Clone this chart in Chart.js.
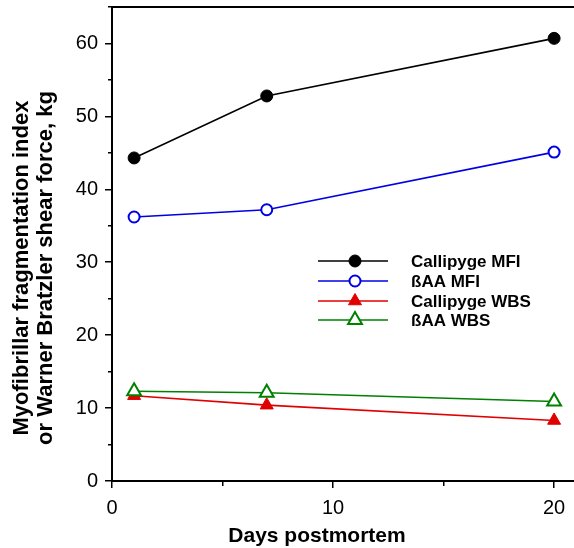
<!DOCTYPE html>
<html>
<head>
<meta charset="utf-8">
<script src="https://cdn.jsdelivr.net/npm/chart.js@4/dist/chart.umd.min.js"></script>
<style>
  html, body { margin: 0; padding: 0; background: #fff; }
  #wrap { width: 574px; height: 548px; }
</style>
</head>
<body>
<div id="wrap"><canvas id="chart" width="574" height="548"></canvas></div>
<script>
var days = [1, 7, 20];
var callipygeMFI = [44.3, 52.8, 60.7];
var baaMFI = [36.2, 37.2, 45.1];
var callipygeWBS = [11.7, 10.4, 8.3];
var baaWBS = [12.3, 12.1, 10.9];
var xTickLabels = [0, 10, 20];
var yTickLabels = [0, 10, 20, 30, 40, 50, 60];

var FONT = '"Liberation Sans", Arial, Helvetica, sans-serif';

function toPoints(values) {
    return days.map(function(d, i) { return { x: d, y: values[i] }; });
}

function isMinor(ctx) {
    return ctx.tick && ctx.tick.value % 10 !== 0;
}

// legend drawn inside the plot: line with the marker in the middle
var insideLegend = {
    id: 'insideLegend',
    afterDraw: function(chart) {
        var ctx = chart.ctx;
        var rows = [261, 281, 301, 320];
        ctx.save();
        chart.data.datasets.forEach(function(ds, i) {
            var y = rows[i];
            ctx.strokeStyle = ds.borderColor;
            ctx.lineWidth = 1.6;
            ctx.beginPath();
            ctx.moveTo(318, y);
            ctx.lineTo(388, y);
            ctx.stroke();
            ctx.fillStyle = ds.pointBackgroundColor;
            ctx.strokeStyle = ds.pointBorderColor;
            ctx.lineWidth = ds.pointBorderWidth;
            Chart.helpers.drawPoint(ctx, {
                pointStyle: ds.pointStyle,
                radius: ds.pointRadius,
                borderWidth: ds.pointBorderWidth,
                rotation: 0
            }, 355, y);
            ctx.fillStyle = '#000';
            ctx.font = 'bold 17px ' + FONT;
            ctx.textBaseline = 'middle';
            ctx.textAlign = 'left';
            ctx.fillText(ds.label, 411, y + 1);
        });
        ctx.restore();
    }
};

// top frame line and axis titles
var frame = {
    id: 'frame',
    afterDraw: function(chart) {
        var ctx = chart.ctx;
        var a = chart.chartArea;
        ctx.save();
        ctx.strokeStyle = '#000';
        ctx.lineWidth = 2;
        ctx.beginPath();
        ctx.moveTo(a.left - 1, a.top);
        ctx.lineTo(a.right, a.top);
        ctx.stroke();

        ctx.fillStyle = '#000';
        ctx.textAlign = 'center';
        ctx.textBaseline = 'alphabetic';
        ctx.font = 'bold 21px ' + FONT;
        ctx.fillText('Days postmortem', 317, 542);

        ctx.font = 'bold 22px ' + FONT;
        ctx.translate(0, 268);
        ctx.rotate(-Math.PI / 2);
        ctx.fillText('Myofibrillar fragmentation index', 0, 28);
        ctx.fillText('or Warner Bratzler shear force, kg', 0, 52);
        ctx.restore();
    }
};

new Chart(document.getElementById('chart'), {
    type: 'line',
    data: {
        datasets: [{
            label: 'Callipyge MFI',
            data: toPoints(callipygeMFI),
            borderColor: '#000000',
            borderWidth: 1.6,
            pointStyle: 'circle',
            pointRadius: 6,
            pointBorderWidth: 1,
            pointBackgroundColor: '#000000',
            pointBorderColor: '#000000',
            order: 1
        }, {
            label: 'ßAA MFI',
            data: toPoints(baaMFI),
            borderColor: '#0000e6',
            borderWidth: 1.6,
            pointStyle: 'circle',
            pointRadius: 5.5,
            pointBorderWidth: 2,
            pointBackgroundColor: '#ffffff',
            pointBorderColor: '#0000e6',
            order: 2
        }, {
            label: 'Callipyge WBS',
            data: toPoints(callipygeWBS),
            borderColor: '#e00000',
            borderWidth: 1.6,
            pointStyle: 'triangle',
            pointRadius: 7.5,
            pointBorderWidth: 1,
            pointBackgroundColor: '#e00000',
            pointBorderColor: '#e00000',
            order: 4
        }, {
            label: 'ßAA WBS',
            data: toPoints(baaWBS),
            borderColor: '#008000',
            borderWidth: 1.6,
            pointStyle: 'triangle',
            pointRadius: 8,
            pointBorderWidth: 2,
            pointBackgroundColor: '#ffffff',
            pointBorderColor: '#008000',
            order: 3
        }]
    },
    options: {
        responsive: false,
        animation: false,
        layout: { autoPadding: false, padding: { top: 7, left: 0, right: 0, bottom: 0 } },
        plugins: {
            legend: { display: false },
            tooltip: { enabled: false }
        },
        scales: {
            x: {
                type: 'linear',
                min: 0,
                max: 20.9,
                afterFit: function(scale) {
                    scale.height = 67;
                    scale.paddingLeft = 0;
                    scale.paddingRight = 0;
                },
                afterBuildTicks: function(scale) {
                    scale.ticks = [0, 5, 10, 15, 20].map(function(v) { return { value: v }; });
                },
                ticks: {
                    stepSize: 5,
                    autoSkip: false,
                    maxRotation: 0,
                    padding: 8,
                    color: '#000',
                    font: { family: FONT, size: 20 },
                    callback: function(v) { return xTickLabels.indexOf(v) >= 0 ? String(v) : ''; }
                },
                grid: {
                    drawOnChartArea: false,
                    drawTicks: true,
                    tickLength: 7,
                    color: '#000',
                    lineWidth: 1.5,
                    tickBorderDash: function(ctx) { return isMinor(ctx) ? [4, 20] : []; }
                },
                border: { color: '#000', width: 2 }
            },
            y: {
                min: 0,
                max: 65,
                afterFit: function(scale) {
                    scale.width = 112;
                    scale.paddingTop = 0;
                    scale.paddingBottom = 0;
                },
                ticks: {
                    stepSize: 5,
                    autoSkip: false,
                    padding: 7,
                    color: '#000',
                    font: { family: FONT, size: 20 },
                    callback: function(v) { return yTickLabels.indexOf(v) >= 0 ? String(v) : ''; }
                },
                grid: {
                    drawOnChartArea: false,
                    drawTicks: true,
                    tickLength: 7,
                    color: '#000',
                    lineWidth: 1.5,
                    tickBorderDash: function(ctx) { return isMinor(ctx) ? [0, 3, 4, 20] : []; }
                },
                border: { color: '#000', width: 2 }
            }
        }
    },
    plugins: [insideLegend, frame]
});
</script>
</body>
</html>
